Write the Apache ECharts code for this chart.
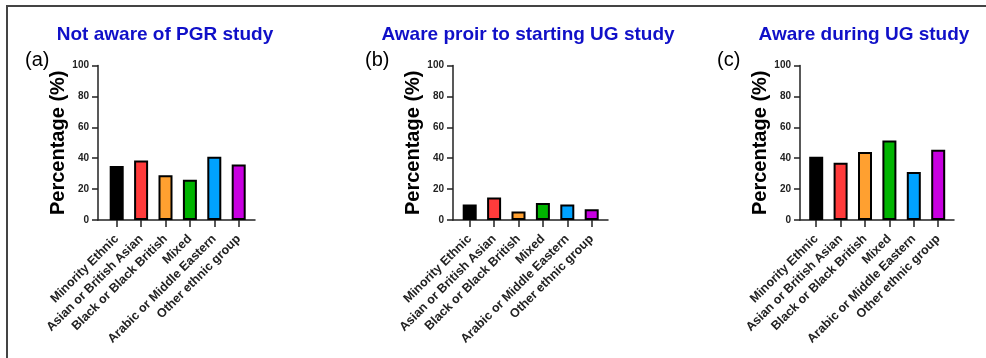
<!DOCTYPE html>
<html>
<head>
<meta charset="utf-8">
<script src="https://cdn.jsdelivr.net/npm/echarts@6/dist/echarts.min.js"></script>
<style>
  html, body { margin: 0; padding: 0; background: #fff; }
  #chart { width: 986px; height: 358px; }
</style>
</head>
<body>
<div id="chart"></div>
<script>
// Ethnic groups shown along each x axis
const categories = ['Minority Ethnic', 'Asian or British Asian', 'Black or Black British', 'Mixed', 'Arabic or Middle Eastern', 'Other ethnic group'];
// Percentages per panel
const notAware = [35, 38.5, 29, 26, 41, 36];
const awarePrior = [10, 14.5, 5.5, 11, 10, 7];
const awareDuring = [41, 37, 44, 51.5, 31, 45.5];
// Panel headings and letters
const panelTitles = ['Not aware of PGR study', 'Aware proir to starting UG study', 'Aware during UG study'];
const panelLetters = ['(a)', '(b)', '(c)'];
const yTicks = [0, 20, 40, 60, 80, 100];
const barColors = ['#000000', '#ff3b3b', '#ffa030', '#00b400', '#00a2ff', '#c800e0'];

const FONT = "'Liberation Sans', Arial, sans-serif";
const AXIS_COLOR = '#222';

// Layout for each panel: frame axis span and bar band span
const panels = [
  { data: notAware, axisLeft: 98, axisRight: 255, plotLeft: 104.5, titleX: 160, letterX: 20 },
  { data: awarePrior, axisLeft: 453, axisRight: 608, plotLeft: 457.5, titleX: 523, letterX: 360 },
  { data: awareDuring, axisLeft: 800, axisRight: 954, plotLeft: 804, titleX: 859, letterX: 712 }
];
const TOP = 65.5, BOTTOM_Y = 220, BAND = 146.4;

const grid = [], xAxis = [], yAxis = [], series = [], title = [];

panels.forEach((p, i) => {
  const frameIdx = grid.length;
  // frame grid: visible axes spanning full width
  grid.push({ left: p.axisLeft, top: TOP, width: p.axisRight - p.axisLeft, height: BOTTOM_Y - TOP });
  // plot grid: bars sit here
  grid.push({ left: p.plotLeft, top: TOP, width: BAND, height: BOTTOM_Y - TOP });

  xAxis.push({
    gridIndex: frameIdx, type: 'category', data: [''],
    axisLine: { show: true, lineStyle: { color: AXIS_COLOR, width: 1.5 } },
    axisTick: { show: false }, axisLabel: { show: false }, splitLine: { show: false }
  });
  yAxis.push({
    gridIndex: frameIdx, type: 'value', min: 0, max: 100, interval: 20,
    name: 'Percentage (%)', nameLocation: 'middle', nameGap: 24,
    nameTextStyle: { fontFamily: FONT, fontWeight: 'bold', fontSize: 20, color: '#000' },
    axisLine: { show: true, lineStyle: { color: AXIS_COLOR, width: 1.5 } },
    axisTick: { show: true, length: 6, lineStyle: { color: AXIS_COLOR, width: 1.5 } },
    axisLabel: { fontFamily: FONT, fontWeight: 'bold', fontSize: 10, color: '#222', margin: 9,
      formatter: v => yTicks.includes(v) ? String(v) : '' },
    splitLine: { show: false }
  });

  xAxis.push({
    gridIndex: frameIdx + 1, type: 'category', data: categories,
    axisLine: { show: false },
    axisTick: { show: true, alignWithLabel: true, length: 7, lineStyle: { color: AXIS_COLOR, width: 1.5 } },
    axisLabel: { fontFamily: FONT, fontWeight: 'bold', fontSize: 12.5, color: '#222', rotate: 45, margin: 17, interval: 0 }
  });
  yAxis.push({
    gridIndex: frameIdx + 1, type: 'value', min: 0, max: 100, show: false
  });

  series.push({
    type: 'bar',
    xAxisIndex: frameIdx + 1, yAxisIndex: frameIdx + 1,
    data: p.data.map((v, k) => ({ value: v, itemStyle: { color: barColors[k] } })),
    barWidth: 14,
    itemStyle: { borderColor: '#000', borderWidth: 2 },
    silent: true, animation: false
  });

  title.push({
    text: panelTitles[i], left: p.titleX, top: 20, textAlign: 'center',
    textStyle: { fontFamily: FONT, fontWeight: 'bold', fontSize: 19, color: '#1010c8' }
  });
  title.push({
    text: panelLetters[i], left: p.letterX, top: 45,
    textStyle: { fontFamily: FONT, fontWeight: 'normal', fontSize: 20, color: '#000' }
  });
});

const chart = echarts.init(document.getElementById('chart'), null, { renderer: 'canvas' });
chart.setOption({
  backgroundColor: '#fff',
  animation: false,
  title, grid, xAxis, yAxis, series,
  graphic: [{
    type: 'rect', silent: true,
    shape: { x: 7, y: 6, width: 1000, height: 400 },
    style: { fill: 'none', stroke: '#444', lineWidth: 2 }
  }]
});
</script>
</body>
</html>
